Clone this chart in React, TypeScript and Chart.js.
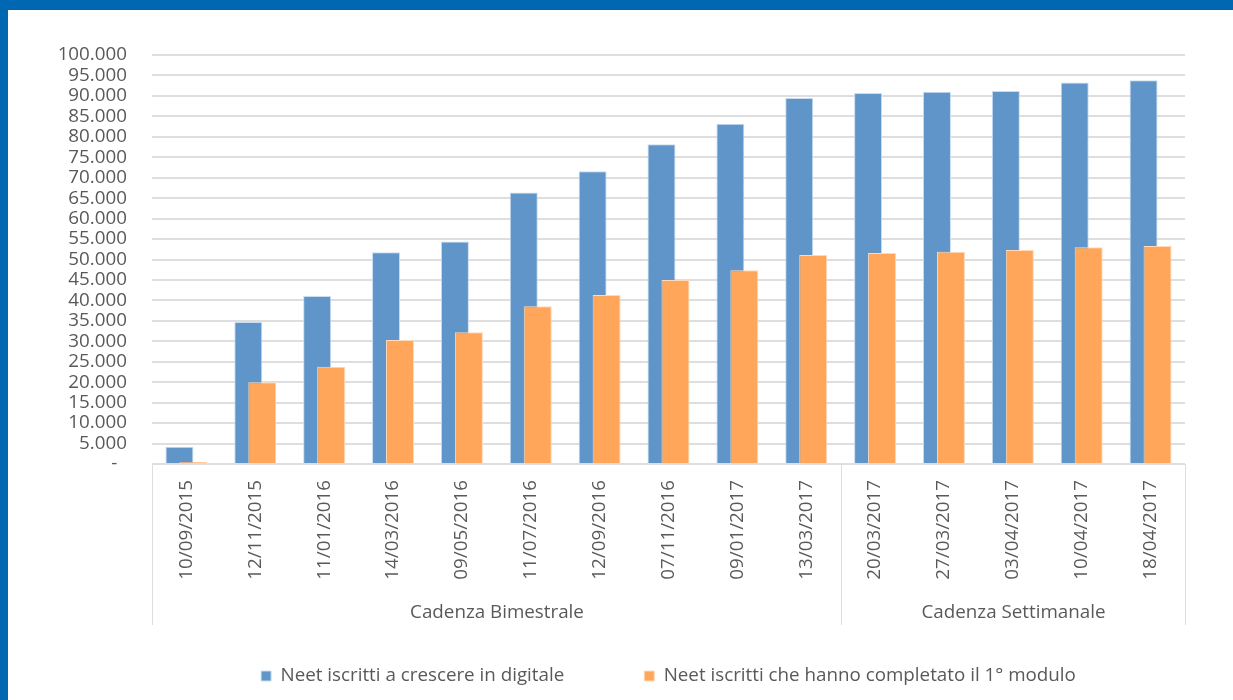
import React, { useEffect, useRef } from "react";
import { Chart, registerables } from "chart.js";

Chart.register(...registerables);

const labels = [
  "10/09/2015", "12/11/2015", "11/01/2016", "14/03/2016", "09/05/2016",
  "11/07/2016", "12/09/2016", "07/11/2016", "09/01/2017", "13/03/2017",
  "20/03/2017", "27/03/2017", "03/04/2017", "10/04/2017", "18/04/2017",
];
const iscritti = [4200, 34700, 41100, 51800, 54400, 66400, 71600, 78200, 83200, 89500, 90700, 91000, 91200, 93300, 93800];
const completato = [500, 20000, 23800, 30300, 32200, 38600, 41300, 45000, 47400, 51100, 51600, 51900, 52300, 53000, 53300];
const seriesNames = ["Neet iscritti a crescere in digitale", "Neet iscritti che hanno completato il 1° modulo"];
const groupLabels = ["Cadenza Bimestrale", "Cadenza Settimanale"];
const groupSizes = [10, 5];

const FONT = "'Open Sans', 'Liberation Sans', sans-serif";
const TEXT = "#595959";
const GRID = "#DEDEDE";

const fmt = (v: number) => {
  if (v === 0) return "-  ";
  return String(v).replace(/\B(?=(\d{3})+(?!\d))/g, ".");
};

const groupPlugin = {
  id: "groupAxis",
  afterDraw(chart: any) {
    const x = chart.scales.x;
    const ctx = chart.ctx;
    const half = (x.getPixelForValue(1) - x.getPixelForValue(0)) / 2;
    const top = chart.chartArea.bottom;
    const bottom = top + 161;
    ctx.save();
    ctx.strokeStyle = GRID;
    ctx.lineWidth = 1;
    ctx.fillStyle = TEXT;
    ctx.font = `18.8px ${FONT}`;
    ctx.textAlign = "center";
    ctx.textBaseline = "middle";
    let start = 0;
    groupSizes.forEach((size, gi) => {
      const end = start + size - 1;
      const left = Math.round(x.getPixelForValue(start) - half) + 0.5;
      const right = Math.round(x.getPixelForValue(end) + half) + 0.5;
      ctx.beginPath();
      ctx.moveTo(left, top);
      ctx.lineTo(left, bottom);
      ctx.moveTo(right, top);
      ctx.lineTo(right, bottom);
      ctx.stroke();
      ctx.fillText(groupLabels[gi], (left + right) / 2, top + 149);
      start = end + 1;
    });
    ctx.restore();
  },
};

export default function App() {
  const ref = useRef<HTMLCanvasElement>(null);
  useEffect(() => {
    if (!ref.current) return;
    const chart = new Chart(ref.current, {
      type: "bar",
      data: {
        labels,
        datasets: [
          {
            label: seriesNames[0],
            data: iscritti,
            backgroundColor: "#5F95C9",
            borderColor: "#C9DCF0",
            borderWidth: 1,
            order: 1,
          },
          {
            label: seriesNames[1],
            data: completato,
            backgroundColor: "#FFA65A",
            borderColor: "#FFD9B8",
            borderWidth: 1,
            order: 0,
          },
        ],
      },
      options: {
        animation: false,
        responsive: true,
        maintainAspectRatio: false,
        categoryPercentage: -0.4066,
        barPercentage: -2.0,
        layout: { padding: { top: 45, right: 48, left: 0, bottom: 4.6 } },
        scales: {
          x: {
            grid: { display: false, drawTicks: false },
            border: { display: false },
            ticks: {
              minRotation: 90,
              maxRotation: 90,
              autoSkip: false,
              padding: 16,
              color: TEXT,
              font: { family: FONT, size: 18.8 },
            },
            afterFit: (s: any) => { s.height = 122.6; },
          },
          y: {
            min: 0,
            max: 100000,
            grid: { color: GRID, lineWidth: 2, drawTicks: false },
            border: { display: false },
            ticks: {
              stepSize: 5000,
              autoSkip: false,
              padding: 25,
              color: TEXT,
              font: { family: FONT, size: 18.8, lineHeight: 1 },
              callback: (v: any) => fmt(Number(v)),
            },
            afterFit: (s: any) => { s.width = 144; },
          },
        },
        plugins: {
          legend: {
            position: "bottom",
            fullSize: false,
            labels: {
              boxWidth: 10,
              boxHeight: 10,
              padding: 80,
              color: TEXT,
              font: { family: FONT, size: 18.8 },
              sort: (a: any, b: any) => a.datasetIndex - b.datasetIndex,
            },
          },
          tooltip: { enabled: false },
        },
      },
      plugins: [groupPlugin],
    });
    return () => chart.destroy();
  }, []);
  return (
    <div
      style={{
        position: "fixed",
        left: 0,
        top: 0,
        width: 1233,
        height: 700,
        boxSizing: "border-box",
        background: "#fff",
        borderTop: "10px solid #0067B3",
        borderLeft: "8px solid #0067B3",
      }}
    >
      <div style={{ position: "relative", width: 1225, height: 690 }}>
        <canvas ref={ref} />
      </div>
    </div>
  );
}
